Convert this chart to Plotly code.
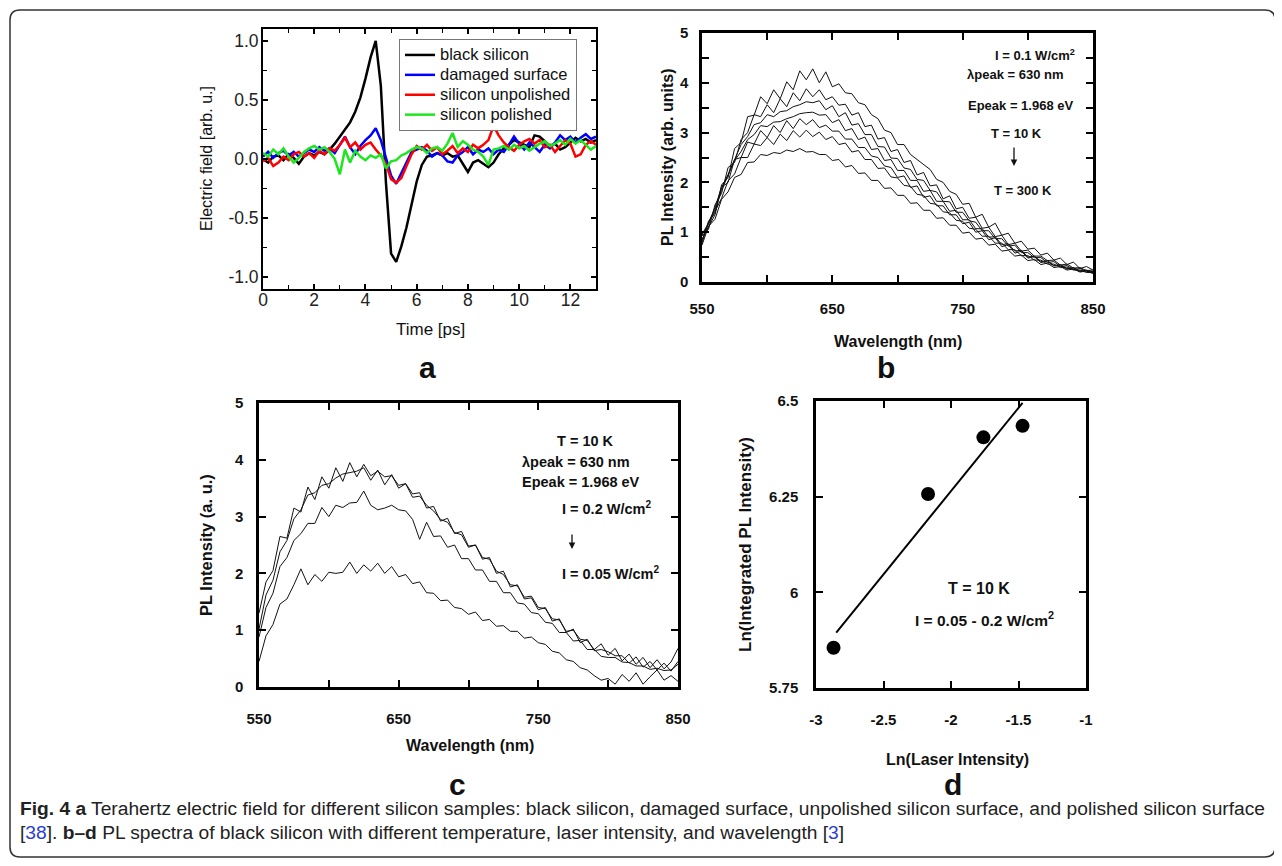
import plotly.graph_objects as go

# ---------------- data ----------------
# panel a : terahertz electric field (arb. u.) vs time (ps)
time_ps = [round(0.2 * i, 1) for i in range(66)]
black_silicon = [
    0.00, -0.03, 0.02, 0.03, -0.01, 0.04, 0.01, -0.04, 0.02, 0.05,
    0.03, 0.06, 0.04, 0.08, 0.13, 0.19, 0.26, 0.31, 0.40, 0.52,
    0.68, 0.86, 1.00, 0.62, -0.20, -0.80, -0.87, -0.74, -0.58, -0.38,
    -0.19, -0.05, 0.02, 0.03, 0.05, 0.03, 0.05, 0.02, 0.03, -0.04,
    -0.11, -0.03, -0.01, -0.04, -0.07, -0.03, 0.04, 0.09, 0.12, 0.16,
    0.14, 0.12, 0.10, 0.20, 0.19, 0.15, 0.11, 0.13, 0.08, 0.10,
    0.14, 0.18, 0.15, 0.17, 0.14, 0.16]
damaged_surface = [
    0.02, 0.06, 0.01, 0.05, 0.07, 0.03, 0.06, 0.02, 0.05, 0.08,
    0.06, 0.10, 0.07, 0.09, 0.05, 0.12, 0.19, 0.10, 0.04, 0.11,
    0.16, 0.20, 0.26, 0.16, 0.00, -0.14, -0.21, -0.12, -0.03, 0.06,
    0.08, 0.10, 0.07, 0.02, 0.05, 0.03, -0.02, -0.03, 0.03, 0.06,
    0.10, 0.04, 0.08, 0.06, 0.09, 0.04, 0.08, 0.06, 0.12, 0.19,
    0.13, 0.08, 0.14, 0.10, 0.06, 0.12, 0.09, 0.14, 0.20, 0.16,
    0.19, 0.14, 0.18, 0.21, 0.17, 0.19]
silicon_unpolished = [
    -0.02, 0.01, -0.06, -0.03, 0.02, -0.01, 0.04, 0.06, 0.02, 0.05,
    0.01, 0.07, 0.04, 0.09, 0.07, 0.12, 0.18, 0.10, 0.14, 0.08,
    0.12, 0.14, 0.08, 0.03, -0.04, -0.17, -0.20, -0.16, -0.06, 0.04,
    0.11, 0.08, 0.12, 0.07, 0.10, 0.04, 0.07, 0.11, 0.05, 0.09,
    0.06, 0.12, 0.09, 0.12, 0.16, 0.28, 0.20, 0.14, 0.10, 0.07,
    0.12, 0.15, 0.17, 0.13, 0.16, 0.10, 0.12, 0.06, 0.11, 0.16,
    0.13, 0.02, 0.04, 0.12, 0.15, 0.12]
silicon_polished = [
    0.05, 0.02, 0.08, 0.04, 0.09, 0.02, -0.03, 0.01, 0.06, 0.09,
    0.11, 0.08, 0.10, 0.06, 0.00, -0.13, 0.08, -0.03, 0.07, 0.02,
    -0.01, 0.03, 0.01, 0.04, -0.08, -0.02, -0.01, 0.03, 0.05, 0.08,
    0.10, 0.09, 0.05, 0.09, 0.10, 0.07, 0.13, 0.22, 0.10, 0.15,
    0.12, 0.08, 0.06, 0.02, -0.05, 0.08, 0.09, 0.11, 0.08, 0.12,
    0.09, 0.11, 0.07, 0.10, 0.13, 0.15, 0.11, 0.13, 0.16, 0.12,
    0.17, 0.13, 0.16, 0.12, 0.08, 0.11]
series_a_names = ["black silicon", "damaged surface", "silicon unpolished", "silicon polished"]

# panels b, c : PL spectra vs wavelength (nm)
wavelength_nm = list(range(550, 851, 5))
pl_b_1 = [0.82, 1.22, 1.38, 1.95, 2.10, 2.68, 2.80, 3.32, 3.35, 3.72,
          3.58, 3.86, 3.68, 4.02, 3.86, 4.24, 4.06, 4.28, 4.00, 4.22,
          3.92, 3.98, 3.80, 3.78, 3.60, 3.56, 3.36, 3.28, 3.05, 3.00,
          2.76, 2.76, 2.56, 2.46, 2.36, 2.26, 2.06, 2.00, 1.82, 1.76,
          1.56, 1.58, 1.30, 1.36, 1.10, 1.18, 0.94, 0.98, 0.78, 0.82,
          0.66, 0.68, 0.54, 0.58, 0.44, 0.48, 0.35, 0.40, 0.27, 0.31, 0.24]
pl_b_2 = [0.92, 1.06, 1.55, 1.78, 2.30, 2.40, 2.86, 3.00, 3.36, 3.32,
          3.56, 3.40, 3.68, 3.52, 3.80, 3.64, 3.88, 3.72, 3.86, 3.66,
          3.72, 3.55, 3.57, 3.35, 3.40, 3.12, 3.15, 2.87, 2.90, 2.62,
          2.66, 2.40, 2.44, 2.15, 2.20, 1.93, 1.95, 1.67, 1.73, 1.47,
          1.50, 1.28, 1.30, 1.08, 1.10, 0.91, 0.94, 0.75, 0.78, 0.62,
          0.64, 0.52, 0.52, 0.43, 0.44, 0.34, 0.36, 0.28, 0.29, 0.23, 0.24]
pl_b_3 = [0.96, 1.18, 1.50, 1.90, 2.16, 2.46, 2.76, 2.92, 3.16, 3.20,
          3.36, 3.32, 3.42, 3.44, 3.52, 3.56, 3.62, 3.60, 3.64, 3.46,
          3.54, 3.32, 3.40, 3.15, 3.18, 2.96, 2.96, 2.72, 2.71, 2.49,
          2.48, 2.29, 2.26, 2.06, 2.04, 1.84, 1.81, 1.62, 1.61, 1.40,
          1.40, 1.23, 1.20, 1.03, 1.03, 0.87, 0.87, 0.72, 0.74, 0.59,
          0.59, 0.49, 0.49, 0.39, 0.41, 0.31, 0.33, 0.25, 0.27, 0.21, 0.21]
pl_b_4 = [0.78, 1.20, 1.46, 1.84, 2.14, 2.44, 2.62, 2.86, 2.96, 3.14,
          3.12, 3.21, 3.22, 3.28, 3.32, 3.38, 3.40, 3.41, 3.35, 3.36,
          3.20, 3.26, 3.04, 3.08, 2.86, 2.91, 2.66, 2.68, 2.44, 2.46,
          2.24, 2.24, 2.04, 2.04, 1.82, 1.84, 1.62, 1.62, 1.42, 1.44,
          1.25, 1.25, 1.07, 1.07, 0.90, 0.91, 0.75, 0.77, 0.62, 0.64,
          0.50, 0.52, 0.41, 0.43, 0.33, 0.35, 0.27, 0.29, 0.22, 0.24, 0.20]
pl_b_5 = [0.86, 1.10, 1.35, 1.90, 2.00, 2.46, 2.50, 2.81, 2.77, 3.04,
          2.90, 3.14, 3.00, 3.24, 3.08, 3.28, 3.16, 3.26, 3.10, 3.15,
          3.03, 3.03, 2.87, 2.87, 2.70, 2.70, 2.53, 2.50, 2.33, 2.30,
          2.10, 2.13, 1.90, 1.93, 1.70, 1.73, 1.53, 1.53, 1.35, 1.35,
          1.17, 1.20, 1.00, 1.03, 0.85, 0.89, 0.71, 0.75, 0.58, 0.62,
          0.48, 0.51, 0.39, 0.42, 0.32, 0.34, 0.26, 0.28, 0.21, 0.23, 0.18]
pl_b_6 = [0.94, 1.16, 1.42, 1.68, 2.03, 2.17, 2.50, 2.50, 2.77, 2.74,
          2.90, 2.76, 2.97, 2.84, 3.04, 2.91, 3.05, 2.92, 3.01, 2.86,
          2.92, 2.76, 2.79, 2.61, 2.64, 2.46, 2.46, 2.28, 2.29, 2.11,
          2.09, 1.94, 1.92, 1.76, 1.74, 1.58, 1.56, 1.41, 1.39, 1.24,
          1.22, 1.08, 1.06, 0.92, 0.92, 0.78, 0.78, 0.65, 0.65, 0.53,
          0.53, 0.44, 0.44, 0.36, 0.36, 0.29, 0.30, 0.24, 0.24, 0.19, 0.19]
pl_b_7 = [0.74, 1.12, 1.26, 1.66, 1.81, 2.10, 2.16, 2.40, 2.41, 2.56,
          2.54, 2.60, 2.58, 2.65, 2.62, 2.68, 2.61, 2.62, 2.56, 2.56,
          2.44, 2.46, 2.31, 2.34, 2.18, 2.19, 2.04, 2.04, 1.88, 1.89,
          1.74, 1.74, 1.58, 1.59, 1.44, 1.44, 1.28, 1.29, 1.14, 1.14,
          0.98, 1.00, 0.86, 0.88, 0.74, 0.76, 0.62, 0.64, 0.52, 0.54,
          0.43, 0.45, 0.35, 0.38, 0.29, 0.31, 0.24, 0.26, 0.20, 0.22, 0.17]

pl_c_1 = [1.30, 1.85, 2.05, 2.65, 2.62, 3.15, 3.08, 3.52, 3.30, 3.70,
          3.50, 3.86, 3.62, 3.95, 3.70, 3.92, 3.72, 3.80, 3.70, 3.72,
          3.55, 3.58, 3.40, 3.42, 3.15, 3.18, 2.92, 2.97, 2.70, 2.74,
          2.48, 2.50, 2.28, 2.25, 2.04, 1.98, 1.80, 1.78, 1.58, 1.60,
          1.40, 1.38, 1.20, 1.18, 0.98, 1.00, 0.84, 0.82, 0.66, 0.76,
          0.56, 0.68, 0.46, 0.58, 0.40, 0.52, 0.34, 0.48, 0.32, 0.44, 0.68]
pl_c_2 = [1.02, 1.62, 1.88, 2.38, 2.58, 2.96, 3.12, 3.38, 3.42, 3.55,
          3.58, 3.68, 3.75, 3.78, 3.80, 3.86, 3.64, 3.82, 3.56, 3.74,
          3.50, 3.58, 3.34, 3.36, 3.20, 3.10, 2.95, 2.90, 2.72, 2.68,
          2.46, 2.50, 2.25, 2.28, 2.00, 2.04, 1.76, 1.80, 1.55, 1.57,
          1.36, 1.40, 1.16, 1.20, 0.96, 1.02, 0.78, 0.84, 0.64, 0.66,
          0.62, 0.55, 0.55, 0.42, 0.53, 0.35, 0.45, 0.30, 0.42, 0.28, 0.45]
pl_c_3 = [0.88, 1.40, 1.65, 2.12, 2.28, 2.58, 2.70, 2.88, 2.88, 3.16,
          3.00, 3.20, 3.16, 3.24, 3.25, 3.45, 3.20, 3.12, 3.15, 3.20,
          3.12, 3.10, 2.95, 2.60, 2.90, 2.65, 2.66, 2.46, 2.50, 2.26,
          2.26, 2.06, 2.06, 1.86, 1.86, 1.66, 1.66, 1.48, 1.46, 1.31,
          1.29, 1.14, 1.12, 0.96, 0.96, 0.81, 0.82, 0.66, 0.66, 0.54,
          0.52, 0.52, 0.44, 0.43, 0.37, 0.37, 0.31, 0.33, 0.29, 0.30, 0.40]
pl_c_4 = [0.45, 0.90, 1.10, 1.46, 1.55, 1.80, 2.08, 1.80, 1.98, 1.86,
          2.02, 2.00, 2.02, 2.20, 2.00, 2.15, 2.04, 2.18, 2.00, 2.12,
          1.94, 1.98, 1.82, 1.85, 1.66, 1.65, 1.52, 1.53, 1.40, 1.38,
          1.28, 1.32, 1.17, 1.19, 1.07, 1.08, 0.98, 0.98, 0.86, 0.88,
          0.78, 0.75, 0.63, 0.60, 0.48, 0.45, 0.34, 0.30, 0.20, 0.12,
          0.15, 0.05, 0.22, 0.10, 0.25, 0.05, 0.18, 0.30, 0.12, 0.20, 0.10]

# panel d : ln(integrated PL) vs ln(laser intensity) with linear fit
ln_laser_intensity = [-2.87, -2.17, -1.76, -1.47]
ln_integrated_pl = [5.855, 6.257, 6.405, 6.435]
fit_ln_laser = [-2.85, -1.47]
fit_ln_pl = [5.895, 6.495]

# ---------------- layout helpers ----------------
W, H = 1282, 866
OFF = 8  # page body margin in the browser


def px(x):
    return (x - OFF) / W


def py(y):
    return 1 - (y - OFF) / H


FA = "Liberation Sans, Arial, sans-serif"

fig = go.Figure()

colors_a = ["#000000", "#0000ff", "#ff0000", "#1ee61e"]
for name, ys, col in zip(series_a_names,
                         [black_silicon, damaged_surface, silicon_unpolished, silicon_polished],
                         colors_a):
    fig.add_trace(go.Scatter(x=time_ps, y=ys, mode="lines",
                             name=f"<span style='font-size:16.5px'>{name}</span>",
                             line=dict(color=col, width=2.5), xaxis="x", yaxis="y"))

for ys in [pl_b_7, pl_b_6, pl_b_5, pl_b_4, pl_b_3, pl_b_2, pl_b_1]:
    fig.add_trace(go.Scatter(x=wavelength_nm, y=ys, mode="lines", showlegend=False,
                             line=dict(color="#111", width=1), xaxis="x2", yaxis="y2"))

for ys in [pl_c_4, pl_c_3, pl_c_2, pl_c_1]:
    fig.add_trace(go.Scatter(x=wavelength_nm, y=ys, mode="lines", showlegend=False,
                             line=dict(color="#111", width=1), xaxis="x3", yaxis="y3"))

fig.add_trace(go.Scatter(x=fit_ln_laser, y=fit_ln_pl, mode="lines", showlegend=False,
                         line=dict(color="black", width=2), xaxis="x4", yaxis="y4"))
fig.add_trace(go.Scatter(x=ln_laser_intensity, y=ln_integrated_pl, mode="markers", showlegend=False,
                         marker=dict(color="black", size=14), xaxis="x4", yaxis="y4"))


def ax(**kw):
    d = dict(showline=True, linecolor="black", mirror="ticks", ticks="inside",
             tickcolor="black", showgrid=False, zeroline=False, fixedrange=True)
    d.update(kw)
    return d


def minor(vals, ln, w):
    return dict(tickvals=vals, ticks="inside", ticklen=ln, tickcolor="black", tickwidth=w)


tick_a = dict(family=FA, size=17.5, color="#222")
tick_b = dict(family=FA, size=15, color="#111", weight="bold")

layout_axes = dict(
    xaxis=ax(domain=[px(263), px(596)], anchor="y", range=[0, 13],
             tickvals=[0, 2, 4, 6, 8, 10, 12], ticklen=5, tickwidth=1.5, linewidth=1.8,
             minor=minor([1, 3, 5, 7, 9, 11, 13], 4, 1.2),
             tickfont=tick_a, ticklabelstandoff=-6),
    yaxis=ax(domain=[py(289), py(29)], anchor="x", range=[-1.1, 1.1],
             tickvals=[-1, -0.5, 0, 0.5, 1], ticktext=["-1.0", "-0.5", "0.0", "0.5", "1.0"],
             ticklen=5, tickwidth=1.5, linewidth=1.8,
             minor=minor([-0.75, -0.25, 0.25, 0.75], 4, 1.2),
             tickfont=tick_a, ticklabelstandoff=-1),
    xaxis2=ax(domain=[px(702), px(1093)], anchor="y2", range=[550, 850],
              tickvals=[550, 650, 750, 850], ticklen=7, tickwidth=2, linewidth=2.5,
              minor=minor([600, 700, 800], 7, 2),
              tickfont=tick_b, ticklabelstandoff=11),
    yaxis2=ax(domain=[py(282), py(33)], anchor="x2", range=[0, 5],
              tickvals=[0, 1, 2, 3, 4, 5], ticklen=7, tickwidth=2, linewidth=2.5,
              minor=minor([0.5, 1.5, 2.5, 3.5, 4.5], 7, 2),
              tickfont=tick_b, ticklabelstandoff=8),
    xaxis3=ax(domain=[px(259), px(678)], anchor="y3", range=[550, 850],
              tickvals=[550, 650, 750, 850], ticklen=7, tickwidth=2, linewidth=2.5,
              minor=minor([600, 700, 800], 7, 2),
              tickfont=tick_b, ticklabelstandoff=16),
    yaxis3=ax(domain=[py(687), py(403)], anchor="x3", range=[0, 5],
              tickvals=[0, 1, 2, 3, 4, 5],
              ticklen=7, tickwidth=2, linewidth=2.5, tickfont=tick_b, ticklabelstandoff=10),
    xaxis4=ax(domain=[px(816), px(1086)], anchor="y4", range=[-3, -1],
              tickvals=[-3, -2.5, -2, -1.5, -1], ticktext=["-3", "-2.5", "-2", "-1.5", "-1"],
              ticklen=7, tickwidth=2, linewidth=2.5, tickfont=tick_b, ticklabelstandoff=16),
    yaxis4=ax(domain=[py(688), py(401)], anchor="x4", range=[5.75, 6.5],
              tickvals=[5.75, 6, 6.25, 6.5], ticktext=["5.75", "6", "6.25", "6.5"],
              ticklen=7, tickwidth=2, linewidth=2.5, tickfont=tick_b, ticklabelstandoff=12),
)


def txt(x, y, text, size, xanchor="center", angle=0, color="#111"):
    return dict(x=px(x), y=py(y), xref="paper", yref="paper", text=text, showarrow=False,
                xanchor=xanchor, yanchor="middle", textangle=angle,
                font=dict(family=FA, size=size, color=color))


def arrow(x, y_tail, y_head):
    return dict(x=px(x), y=py(y_head), xref="paper", yref="paper", ax=0, ay=-(y_head - y_tail),
                text="", showarrow=True, arrowhead=2, arrowsize=1, arrowwidth=1.3,
                arrowcolor="#111")


annots = [
    # panel a
    txt(430, 329, "Time [ps]", 17),
    txt(206, 159, "Electric field [arb. u.]", 16, angle=-90),
    txt(427, 367, "<b>a</b>", 30),
    # panel b
    txt(898, 341, "<b>Wavelength (nm)</b>", 16),
    txt(668, 157, "<b>PL Intensity (arb. units)</b>", 16, angle=-90),
    txt(886, 367, "<b>b</b>", 30),
    txt(1077, 55, "<b>I = 0.1 W/cm<sup>2</sup></b>", 13, xanchor="right"),
    txt(1015, 75, "<b>λpeak = 630 nm</b>", 13),
    txt(1020, 106, "<b>Epeak = 1.968 eV</b>", 13),
    txt(1017, 133, "<b>T = 10 K</b>", 13),
    arrow(1014, 146, 166),
    txt(1023, 191, "<b>T = 300 K</b>", 13),
    # panel c
    txt(470, 745, "<b>Wavelength (nm)</b>", 16),
    txt(206, 545, "<b>PL Intensity (a. u.)</b>", 16.5, angle=-90),
    txt(457, 784, "<b>c</b>", 30),
    txt(585, 441, "<b>T = 10 K</b>", 14.5),
    txt(520, 462, "<b>λpeak = 630 nm</b>", 14.5, xanchor="left"),
    txt(520, 482, "<b>Epeak = 1.968 eV</b>", 14.5, xanchor="left"),
    txt(560, 508, "<b>I = 0.2 W/cm<sup>2</sup></b>", 14.5, xanchor="left"),
    arrow(572, 533, 549),
    txt(560, 573, "<b>I = 0.05 W/cm<sup>2</sup></b>", 14.5, xanchor="left"),
    # panel d
    txt(957, 759, "<b>Ln(Laser Intensity)</b>", 16),
    txt(745, 545, "<b>Ln(Integrated PL Intensity)</b>", 17, angle=-90),
    txt(953, 784, "<b>d</b>", 30),
    txt(979, 588, "<b>T = 10 K</b>", 16),
    txt(913, 619, "<b>I = 0.05 - 0.2 W/cm<sup>2</sup></b>", 15.5, xanchor="left"),
    # caption
    txt(18, 808, "<b>Fig. 4 a</b> Terahertz electric field for different silicon samples: black silicon, "
                 "damaged surface, unpolished silicon surface, and polished silicon surface",
        19.2, xanchor="left", color="#222"),
    txt(18, 832, "[<span style='color:#2a3fd0'>38</span>]. <b>b–d</b> PL spectra of black silicon "
                 "with different temperature, laser intensity, and wavelength "
                 "[<span style='color:#2a3fd0'>3</span>]",
        19.2, xanchor="left", color="#222"),
]

L, T, R, B, r = 10, 10, 1275, 857, 10
box_path = (f"M {px(L + r)},{py(T)} L {px(R - r)},{py(T)} Q {px(R)},{py(T)} {px(R)},{py(T + r)} "
            f"L {px(R)},{py(B - r)} Q {px(R)},{py(B)} {px(R - r)},{py(B)} "
            f"L {px(L + r)},{py(B)} Q {px(L)},{py(B)} {px(L)},{py(B - r)} "
            f"L {px(L)},{py(T + r)} Q {px(L)},{py(T)} {px(L + r)},{py(T)} Z")
shapes = [dict(type="path", xref="paper", yref="paper", path=box_path,
               line=dict(color="#333", width=1.5), layer="below")]

fig.update_layout(
    width=W, height=H, autosize=False,
    margin=dict(l=0, r=0, t=0, b=0, autoexpand=False),
    paper_bgcolor="white", plot_bgcolor="white",
    showlegend=True,
    legend=dict(x=px(399), y=py(39), xanchor="left", yanchor="top",
                bordercolor="#777", borderwidth=1, bgcolor="white",
                font=dict(family=FA, size=13, color="#111"), tracegroupgap=0),
    annotations=annots, shapes=shapes,
    **layout_axes,
)

fig.write_html("out.html")
